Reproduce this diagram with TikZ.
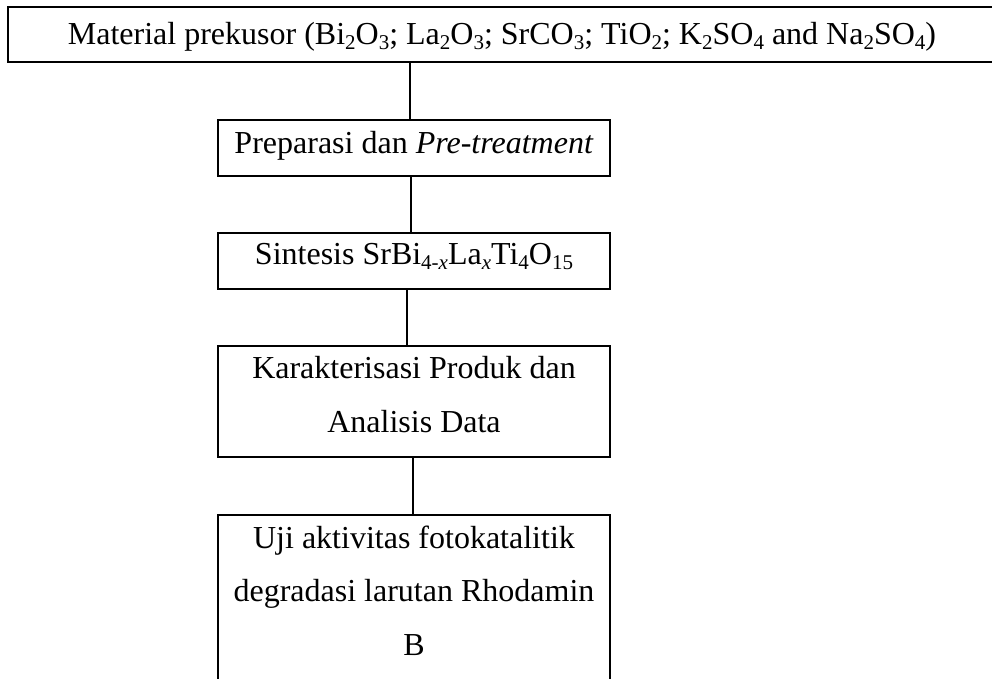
\documentclass[tikz,border=0pt]{standalone}
\usepackage{fontspec}
\setmainfont{Liberation Serif}
\newcommand\sbs[1]{\raisebox{-0.15em}{\fontsize{21}{21}\selectfont #1}}
\begin{document}
\begin{tikzpicture}[x=1pt,y=-1pt,
  box/.style={draw,line width=1.8pt,rectangle,inner sep=0pt,align=center,
    font=\fontsize{32}{53.5}\selectfont},
  link/.style={line width=1.8pt}]
\useasboundingbox (0,0) rectangle (992,679);
\node[box,minimum width=1000pt,minimum height=55pt,text depth=2pt] (top) at (508,34.5)
  {\hspace*{-12pt}Material prekusor (Bi\sbs{2}O\sbs{3}; La\sbs{2}O\sbs{3}; SrCO\sbs{3}; TiO\sbs{2}; K\sbs{2}SO\sbs{4} and Na\sbs{2}SO\sbs{4})};
\node[box,minimum width=392pt,minimum height=56pt,text depth=11pt] (b2) at (414,148)
  {Preparasi dan \textit{Pre-treatment}};
\node[box,minimum width=392pt,minimum height=56pt,text depth=14pt] (b3) at (414,261)
  {Sintesis SrBi\sbs{4-\textit{x}}La\sbs{\textit{x}}Ti\sbs{4}O\sbs{15}};
\node[box,minimum width=392pt,minimum height=111pt,text depth=14pt] (b4) at (414,401.5)
  {Karakterisasi Produk dan\\Analisis Data};
\node[box,minimum width=392pt,minimum height=165pt,text depth=14pt] (b5) at (414,597.5)
  {Uji aktivitas fotokatalitik\\degradasi larutan Rhodamin\\B};
\draw[link] ([xshift=-4pt]b2.north) -- ([xshift=-4pt]b2.north |- top.south);
\draw[link] ([xshift=-3pt]b2.south) -- ([xshift=-3pt]b3.north);
\draw[link] ([xshift=-7pt]b3.south) -- ([xshift=-7pt]b4.north);
\draw[link] ([xshift=-1pt]b4.south) -- ([xshift=-1pt]b5.north);
\end{tikzpicture}
\end{document}
